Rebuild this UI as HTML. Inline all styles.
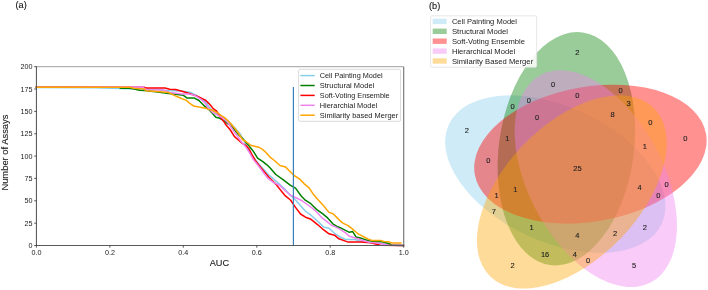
<!DOCTYPE html><html><head><meta charset="utf-8"><style>html,body{margin:0;padding:0;width:708px;height:290px;overflow:hidden;background:#fff}</style></head><body><svg width="708" height="290" viewBox="0 0 708 290" style="position:absolute;left:0;top:0;will-change:transform">
<rect width="708" height="290" fill="#fff"/>
<text x="15.5" y="8" font-family="'Liberation Sans', sans-serif" stroke="currentColor" stroke-width="0.12" style="color:#222" font-size="9.2" fill="#111">(a)</text>
<text x="429" y="8.9" font-family="'Liberation Sans', sans-serif" stroke="currentColor" stroke-width="0.12" style="color:#222" font-size="9.2" fill="#111">(b)</text>
<polyline fill="none" stroke="#87ceeb" stroke-width="1.5" stroke-linejoin="round" stroke-linecap="square" points="36.4,87.5 96.0,87.8 120.0,88.4 144.0,89.3 157.8,89.5 166.7,90.4 180.0,91.0 190.3,92.3 195.5,94.9 201.6,98.8 206.7,103.1 208.5,106.3 211.4,109.5 216.0,113.0 222.0,116.5 227.0,120.0 230.0,123.0 235.2,128.2 240.3,134.0 247.2,147.0 252.4,156.0 257.6,162.5 262.0,167.6 268.9,175.2 277.2,182.1 284.1,188.3 290.5,195.5 296.0,200.5 301.0,206.3 305.3,211.0 311.0,215.2 317.9,221.4 323.4,226.9 329.0,228.3 334.5,233.3 340.2,237.0 345.5,239.5 354.7,239.5 361.2,241.5 370.0,242.1 377.9,242.7 382.2,243.5 390.0,244.5 403.4,245.4"/>
<polyline fill="none" stroke="#008000" stroke-width="1.5" stroke-linejoin="round" stroke-linecap="square" points="36.4,87.2 119.0,87.3 121.0,88.2 130.0,88.2 135.4,89.3 139.4,90.2 144.2,90.4 157.8,91.9 168.5,93.4 175.6,94.3 183.4,95.3 186.9,97.9 193.8,97.9 199.0,100.5 204.1,105.7 208.4,109.1 213.2,114.2 215.8,117.2 219.2,118.1 223.5,120.3 227.0,123.3 230.0,124.7 234.3,129.5 238.6,134.7 242.9,138.8 246.4,143.0 249.3,146.2 253.4,151.4 257.6,158.1 262.5,161.3 266.9,164.8 270.2,168.0 275.8,174.5 282.7,179.3 290.5,185.4 295.5,188.1 301.0,195.7 305.3,200.2 310.8,203.7 316.8,209.6 322.5,213.7 327.6,217.9 333.1,224.1 337.0,226.5 340.2,227.7 345.5,230.3 349.4,232.3 352.7,231.6 356.0,236.9 361.2,238.2 366.5,240.1 370.0,240.7 373.6,241.4 382.2,241.8 385.7,242.7 390.0,244.0 391.7,245.3 403.4,245.4"/>
<polyline fill="none" stroke="#ff0000" stroke-width="1.5" stroke-linejoin="round" stroke-linecap="square" points="36.4,87.2 144.0,87.3 146.0,88.0 165.0,88.0 169.7,89.2 175.6,89.5 182.0,91.3 188.6,93.2 197.2,96.2 205.9,100.5 208.0,102.6 210.6,105.2 213.2,108.6 216.6,111.2 219.2,115.5 221.8,119.0 224.4,122.4 226.1,125.0 230.0,129.5 234.3,136.4 238.6,140.3 241.5,142.8 246.2,145.7 249.3,149.3 252.4,155.5 255.5,160.7 258.6,164.8 262.0,169.0 268.9,177.2 275.8,184.1 281.3,191.0 285.4,195.9 290.5,200.0 295.5,207.4 300.5,214.0 305.5,217.2 311.0,219.3 317.9,224.8 323.4,229.7 329.0,233.8 334.5,235.2 338.9,238.8 348.1,242.1 361.2,242.1 370.0,242.8 373.6,243.5 380.5,245.3 403.4,245.5"/>
<polyline fill="none" stroke="#ee82ee" stroke-width="1.5" stroke-linejoin="round" stroke-linecap="square" points="36.4,87.2 143.0,87.1 146.0,89.8 163.7,90.1 169.7,92.5 182.0,94.0 188.6,94.0 194.7,95.3 201.6,99.7 205.0,103.0 208.0,107.8 211.4,111.2 213.2,112.9 216.6,114.7 220.9,116.8 225.2,119.8 228.7,123.7 230.0,125.5 234.3,132.1 238.6,137.8 241.5,142.0 245.2,146.2 249.3,152.4 253.4,159.6 257.6,164.8 261.0,169.3 267.5,177.9 273.0,182.1 279.9,185.5 285.4,191.0 291.0,195.5 296.9,198.2 302.4,201.0 307.9,205.0 313.4,209.0 317.6,213.0 322.1,217.9 327.6,222.1 331.7,225.5 335.0,226.6 340.2,229.3 345.5,232.9 349.4,236.2 356.0,238.2 363.8,240.8 370.0,242.5 377.9,243.1 385.7,244.4 388.3,245.3 403.4,245.4"/>
<polyline fill="none" stroke="#ffa500" stroke-width="1.5" stroke-linejoin="round" stroke-linecap="square" points="36.4,87.2 129.8,87.2 133.7,88.2 144.2,88.9 145.9,90.7 157.8,91.6 168.5,92.5 173.2,94.9 178.0,97.0 182.0,98.8 186.0,100.1 189.5,103.1 193.8,106.1 201.6,107.4 205.9,108.3 208.0,109.1 212.3,110.3 217.5,112.9 221.8,115.9 225.2,118.1 230.0,122.8 234.3,127.8 238.6,133.5 242.5,139.5 246.5,142.0 251.2,145.5 258.6,147.2 261.7,148.8 265.9,152.4 270.0,157.1 274.4,160.5 279.9,165.5 285.4,166.9 289.6,171.0 294.1,175.5 299.7,179.1 305.2,184.7 309.3,188.1 313.4,194.3 317.8,199.5 323.4,205.5 329.0,212.4 333.1,213.8 337.2,217.9 340.0,220.7 342.9,223.1 348.1,225.7 353.3,229.7 358.6,234.2 365.1,237.5 368.4,239.2 371.9,240.5 380.5,240.5 384.0,241.4 389.1,241.8 391.7,243.1 400.8,243.1"/>
<line x1="293.4" y1="87" x2="293.4" y2="245.5" stroke="#3a80b8" stroke-width="1.2"/>
<line x1="36.4" y1="66.7" x2="403.7" y2="66.7" stroke="#a0a0a0" stroke-width="1"/>
<line x1="403.7" y1="66.7" x2="403.7" y2="245.5" stroke="#707070" stroke-width="1.1"/>
<line x1="36.4" y1="66.2" x2="36.4" y2="246.0" stroke="#4c4c4c" stroke-width="1"/>
<line x1="35.9" y1="245.5" x2="404.2" y2="245.5" stroke="#5a5a5a" stroke-width="1"/>
<line x1="34.2" y1="245.5" x2="36.4" y2="245.5" stroke="#333" stroke-width="0.8"/>
<text x="32.4" y="248.0" font-family="'Liberation Sans', sans-serif" font-size="7.2" fill="#222" text-anchor="end">0</text>
<line x1="34.2" y1="223.2" x2="36.4" y2="223.2" stroke="#333" stroke-width="0.8"/>
<text x="32.4" y="225.7" font-family="'Liberation Sans', sans-serif" font-size="7.2" fill="#222" text-anchor="end">25</text>
<line x1="34.2" y1="200.8" x2="36.4" y2="200.8" stroke="#333" stroke-width="0.8"/>
<text x="32.4" y="203.3" font-family="'Liberation Sans', sans-serif" font-size="7.2" fill="#222" text-anchor="end">50</text>
<line x1="34.2" y1="178.4" x2="36.4" y2="178.4" stroke="#333" stroke-width="0.8"/>
<text x="32.4" y="180.9" font-family="'Liberation Sans', sans-serif" font-size="7.2" fill="#222" text-anchor="end">75</text>
<line x1="34.2" y1="156.1" x2="36.4" y2="156.1" stroke="#333" stroke-width="0.8"/>
<text x="32.4" y="158.6" font-family="'Liberation Sans', sans-serif" font-size="7.2" fill="#222" text-anchor="end">100</text>
<line x1="34.2" y1="133.8" x2="36.4" y2="133.8" stroke="#333" stroke-width="0.8"/>
<text x="32.4" y="136.2" font-family="'Liberation Sans', sans-serif" font-size="7.2" fill="#222" text-anchor="end">125</text>
<line x1="34.2" y1="111.4" x2="36.4" y2="111.4" stroke="#333" stroke-width="0.8"/>
<text x="32.4" y="113.9" font-family="'Liberation Sans', sans-serif" font-size="7.2" fill="#222" text-anchor="end">150</text>
<line x1="34.2" y1="89.0" x2="36.4" y2="89.0" stroke="#333" stroke-width="0.8"/>
<text x="32.4" y="91.5" font-family="'Liberation Sans', sans-serif" font-size="7.2" fill="#222" text-anchor="end">175</text>
<line x1="34.2" y1="66.7" x2="36.4" y2="66.7" stroke="#333" stroke-width="0.8"/>
<text x="32.4" y="69.2" font-family="'Liberation Sans', sans-serif" font-size="7.2" fill="#222" text-anchor="end">200</text>
<line x1="36.4" y1="245.5" x2="36.4" y2="247.7" stroke="#333" stroke-width="0.8"/>
<text x="36.4" y="255.4" font-family="'Liberation Sans', sans-serif" font-size="7.2" fill="#222" text-anchor="middle">0.0</text>
<line x1="109.9" y1="245.5" x2="109.9" y2="247.7" stroke="#333" stroke-width="0.8"/>
<text x="109.9" y="255.4" font-family="'Liberation Sans', sans-serif" font-size="7.2" fill="#222" text-anchor="middle">0.2</text>
<line x1="183.3" y1="245.5" x2="183.3" y2="247.7" stroke="#333" stroke-width="0.8"/>
<text x="183.3" y="255.4" font-family="'Liberation Sans', sans-serif" font-size="7.2" fill="#222" text-anchor="middle">0.4</text>
<line x1="256.8" y1="245.5" x2="256.8" y2="247.7" stroke="#333" stroke-width="0.8"/>
<text x="256.8" y="255.4" font-family="'Liberation Sans', sans-serif" font-size="7.2" fill="#222" text-anchor="middle">0.6</text>
<line x1="330.2" y1="245.5" x2="330.2" y2="247.7" stroke="#333" stroke-width="0.8"/>
<text x="330.2" y="255.4" font-family="'Liberation Sans', sans-serif" font-size="7.2" fill="#222" text-anchor="middle">0.8</text>
<line x1="403.7" y1="245.5" x2="403.7" y2="247.7" stroke="#333" stroke-width="0.8"/>
<text x="403.7" y="255.4" font-family="'Liberation Sans', sans-serif" font-size="7.2" fill="#222" text-anchor="middle">1.0</text>
<text x="219.4" y="266.4" font-family="'Liberation Sans', sans-serif" stroke="currentColor" stroke-width="0.12" style="color:#222" font-size="9.2" fill="#222" text-anchor="middle">AUC</text>
<text transform="translate(8.4,152.6) rotate(-90)" font-family="'Liberation Sans', sans-serif" stroke="currentColor" stroke-width="0.12" style="color:#222" font-size="8.9" fill="#222" text-anchor="middle" textLength="76" lengthAdjust="spacingAndGlyphs">Number of Assays</text>
<rect x="298.6" y="69.3" width="102" height="52" rx="1.5" fill="#fff" fill-opacity="0.8" stroke="#d0d0d0" stroke-width="0.8"/>
<line x1="300.4" y1="75.6" x2="314.7" y2="75.6" stroke="#87ceeb" stroke-width="1.5"/>
<text x="319.8" y="78.2" font-family="'Liberation Sans', sans-serif" font-size="7.5" fill="#222" textLength="62.8" lengthAdjust="spacingAndGlyphs">Cell Painting Model</text>
<line x1="300.4" y1="85.5" x2="314.7" y2="85.5" stroke="#008000" stroke-width="1.5"/>
<text x="319.8" y="88.1" font-family="'Liberation Sans', sans-serif" font-size="7.5" fill="#222" textLength="54.4" lengthAdjust="spacingAndGlyphs">Structural Model</text>
<line x1="300.4" y1="95.4" x2="314.7" y2="95.4" stroke="#ff0000" stroke-width="1.5"/>
<text x="319.8" y="98.0" font-family="'Liberation Sans', sans-serif" font-size="7.5" fill="#222" textLength="69.8" lengthAdjust="spacingAndGlyphs">Soft-Voting Ensemble</text>
<line x1="300.4" y1="105.3" x2="314.7" y2="105.3" stroke="#ee82ee" stroke-width="1.5"/>
<text x="319.8" y="107.9" font-family="'Liberation Sans', sans-serif" font-size="7.5" fill="#222" textLength="57.4" lengthAdjust="spacingAndGlyphs">Hierarchial Model</text>
<line x1="300.4" y1="115.2" x2="314.7" y2="115.2" stroke="#ffa500" stroke-width="1.5"/>
<text x="319.8" y="117.8" font-family="'Liberation Sans', sans-serif" font-size="7.5" fill="#222" textLength="78.4" lengthAdjust="spacingAndGlyphs">Similarity based Merger</text>
<ellipse cx="555.32" cy="174.11" rx="117.41" ry="67.47" transform="rotate(-155.0 555.32 174.11)" fill="#87ceeb" fill-opacity="0.4"/>
<ellipse cx="566.38" cy="148.74" rx="117.41" ry="67.47" transform="rotate(-82.0 566.38 148.74)" fill="#008000" fill-opacity="0.4"/>
<ellipse cx="590.40" cy="154.14" rx="117.41" ry="67.47" transform="rotate(-10.0 590.40 154.14)" fill="#ff0000" fill-opacity="0.43"/>
<ellipse cx="595.80" cy="178.70" rx="117.41" ry="67.47" transform="rotate(-118.0 595.80 178.70)" fill="#ee82ee" fill-opacity="0.42"/>
<ellipse cx="571.78" cy="191.93" rx="117.41" ry="67.47" transform="rotate(-46.0 571.78 191.93)" fill="#ffa500" fill-opacity="0.4"/>
<text x="512.7" y="267.9" font-family="'Liberation Sans', sans-serif" stroke="currentColor" stroke-width="0.12" style="color:#222" font-size="7.5" fill="#222" text-anchor="middle">2</text>
<text x="634.1" y="267.9" font-family="'Liberation Sans', sans-serif" stroke="currentColor" stroke-width="0.12" style="color:#222" font-size="7.5" fill="#222" text-anchor="middle">5</text>
<text x="588.2" y="262.5" font-family="'Liberation Sans', sans-serif" stroke="currentColor" stroke-width="0.12" style="color:#222" font-size="7.5" fill="#222" text-anchor="middle">0</text>
<text x="685.4" y="141.1" font-family="'Liberation Sans', sans-serif" stroke="currentColor" stroke-width="0.12" style="color:#222" font-size="7.5" fill="#222" text-anchor="middle">0</text>
<text x="650.3" y="124.9" font-family="'Liberation Sans', sans-serif" stroke="currentColor" stroke-width="0.12" style="color:#222" font-size="7.5" fill="#222" text-anchor="middle">0</text>
<text x="666.5" y="186.9" font-family="'Liberation Sans', sans-serif" stroke="currentColor" stroke-width="0.12" style="color:#222" font-size="7.5" fill="#222" text-anchor="middle">0</text>
<text x="644.9" y="149.2" font-family="'Liberation Sans', sans-serif" stroke="currentColor" stroke-width="0.12" style="color:#222" font-size="7.5" fill="#222" text-anchor="middle">1</text>
<text x="577.4" y="54.7" font-family="'Liberation Sans', sans-serif" stroke="currentColor" stroke-width="0.12" style="color:#222" font-size="7.5" fill="#222" text-anchor="middle">2</text>
<text x="545.1" y="257.1" font-family="'Liberation Sans', sans-serif" stroke="currentColor" stroke-width="0.12" style="color:#222" font-size="7.5" fill="#222" text-anchor="middle">16</text>
<text x="553.2" y="87.1" font-family="'Liberation Sans', sans-serif" stroke="currentColor" stroke-width="0.12" style="color:#222" font-size="7.5" fill="#222" text-anchor="middle">0</text>
<text x="574.8" y="257.1" font-family="'Liberation Sans', sans-serif" stroke="currentColor" stroke-width="0.12" style="color:#222" font-size="7.5" fill="#222" text-anchor="middle">4</text>
<text x="620.6" y="92.5" font-family="'Liberation Sans', sans-serif" stroke="currentColor" stroke-width="0.12" style="color:#222" font-size="7.5" fill="#222" text-anchor="middle">0</text>
<text x="628.7" y="106.0" font-family="'Liberation Sans', sans-serif" stroke="currentColor" stroke-width="0.12" style="color:#222" font-size="7.5" fill="#222" text-anchor="middle">3</text>
<text x="577.4" y="97.9" font-family="'Liberation Sans', sans-serif" stroke="currentColor" stroke-width="0.12" style="color:#222" font-size="7.5" fill="#222" text-anchor="middle">0</text>
<text x="612.5" y="116.8" font-family="'Liberation Sans', sans-serif" stroke="currentColor" stroke-width="0.12" style="color:#222" font-size="7.5" fill="#222" text-anchor="middle">8</text>
<text x="466.8" y="133.0" font-family="'Liberation Sans', sans-serif" stroke="currentColor" stroke-width="0.12" style="color:#222" font-size="7.5" fill="#222" text-anchor="middle">2</text>
<text x="493.8" y="213.9" font-family="'Liberation Sans', sans-serif" stroke="currentColor" stroke-width="0.12" style="color:#222" font-size="7.5" fill="#222" text-anchor="middle">7</text>
<text x="644.9" y="230.1" font-family="'Liberation Sans', sans-serif" stroke="currentColor" stroke-width="0.12" style="color:#222" font-size="7.5" fill="#222" text-anchor="middle">2</text>
<text x="615.2" y="235.5" font-family="'Liberation Sans', sans-serif" stroke="currentColor" stroke-width="0.12" style="color:#222" font-size="7.5" fill="#222" text-anchor="middle">2</text>
<text x="488.4" y="162.7" font-family="'Liberation Sans', sans-serif" stroke="currentColor" stroke-width="0.12" style="color:#222" font-size="7.5" fill="#222" text-anchor="middle">0</text>
<text x="496.5" y="197.7" font-family="'Liberation Sans', sans-serif" stroke="currentColor" stroke-width="0.12" style="color:#222" font-size="7.5" fill="#222" text-anchor="middle">1</text>
<text x="658.4" y="197.7" font-family="'Liberation Sans', sans-serif" stroke="currentColor" stroke-width="0.12" style="color:#222" font-size="7.5" fill="#222" text-anchor="middle">0</text>
<text x="639.5" y="189.6" font-family="'Liberation Sans', sans-serif" stroke="currentColor" stroke-width="0.12" style="color:#222" font-size="7.5" fill="#222" text-anchor="middle">4</text>
<text x="512.7" y="108.7" font-family="'Liberation Sans', sans-serif" stroke="currentColor" stroke-width="0.12" style="color:#222" font-size="7.5" fill="#222" text-anchor="middle">0</text>
<text x="531.6" y="230.1" font-family="'Liberation Sans', sans-serif" stroke="currentColor" stroke-width="0.12" style="color:#222" font-size="7.5" fill="#222" text-anchor="middle">1</text>
<text x="528.9" y="103.3" font-family="'Liberation Sans', sans-serif" stroke="currentColor" stroke-width="0.12" style="color:#222" font-size="7.5" fill="#222" text-anchor="middle">0</text>
<text x="577.4" y="238.2" font-family="'Liberation Sans', sans-serif" stroke="currentColor" stroke-width="0.12" style="color:#222" font-size="7.5" fill="#222" text-anchor="middle">4</text>
<text x="507.3" y="141.1" font-family="'Liberation Sans', sans-serif" stroke="currentColor" stroke-width="0.12" style="color:#222" font-size="7.5" fill="#222" text-anchor="middle">1</text>
<text x="515.4" y="192.3" font-family="'Liberation Sans', sans-serif" stroke="currentColor" stroke-width="0.12" style="color:#222" font-size="7.5" fill="#222" text-anchor="middle">1</text>
<text x="537.0" y="119.5" font-family="'Liberation Sans', sans-serif" stroke="currentColor" stroke-width="0.12" style="color:#222" font-size="7.5" fill="#222" text-anchor="middle">0</text>
<text x="577.4" y="170.7" font-family="'Liberation Sans', sans-serif" stroke="currentColor" stroke-width="0.12" style="color:#222" font-size="7.5" fill="#222" text-anchor="middle">25</text>
<rect x="430.6" y="15.8" width="106.1" height="51.4" rx="1.5" fill="#fff" fill-opacity="0.85" stroke="#e0e0e0" stroke-width="0.8"/>
<rect x="432.7" y="18.7" width="14" height="5.4" fill="#87ceeb" fill-opacity="0.4"/>
<text x="451.9" y="23.9" font-family="'Liberation Sans', sans-serif" font-size="7.7" fill="#222" textLength="65.1" lengthAdjust="spacingAndGlyphs">Cell Painting Model</text>
<rect x="432.7" y="28.6" width="14" height="5.4" fill="#008000" fill-opacity="0.4"/>
<text x="451.9" y="33.8" font-family="'Liberation Sans', sans-serif" font-size="7.7" fill="#222" textLength="56.2" lengthAdjust="spacingAndGlyphs">Structural Model</text>
<rect x="432.7" y="38.5" width="14" height="5.4" fill="#ff0000" fill-opacity="0.43"/>
<text x="451.9" y="43.7" font-family="'Liberation Sans', sans-serif" font-size="7.7" fill="#222" textLength="73.0" lengthAdjust="spacingAndGlyphs">Soft-Voting Ensemble</text>
<rect x="432.7" y="48.4" width="14" height="5.4" fill="#ee82ee" fill-opacity="0.42"/>
<text x="451.9" y="53.6" font-family="'Liberation Sans', sans-serif" font-size="7.7" fill="#222" textLength="63.3" lengthAdjust="spacingAndGlyphs">Hierarchical Model</text>
<rect x="432.7" y="58.3" width="14" height="5.4" fill="#ffa500" fill-opacity="0.4"/>
<text x="451.9" y="63.5" font-family="'Liberation Sans', sans-serif" font-size="7.7" fill="#222" textLength="81.3" lengthAdjust="spacingAndGlyphs">Similarity Based Merger</text>
</svg></body></html>
